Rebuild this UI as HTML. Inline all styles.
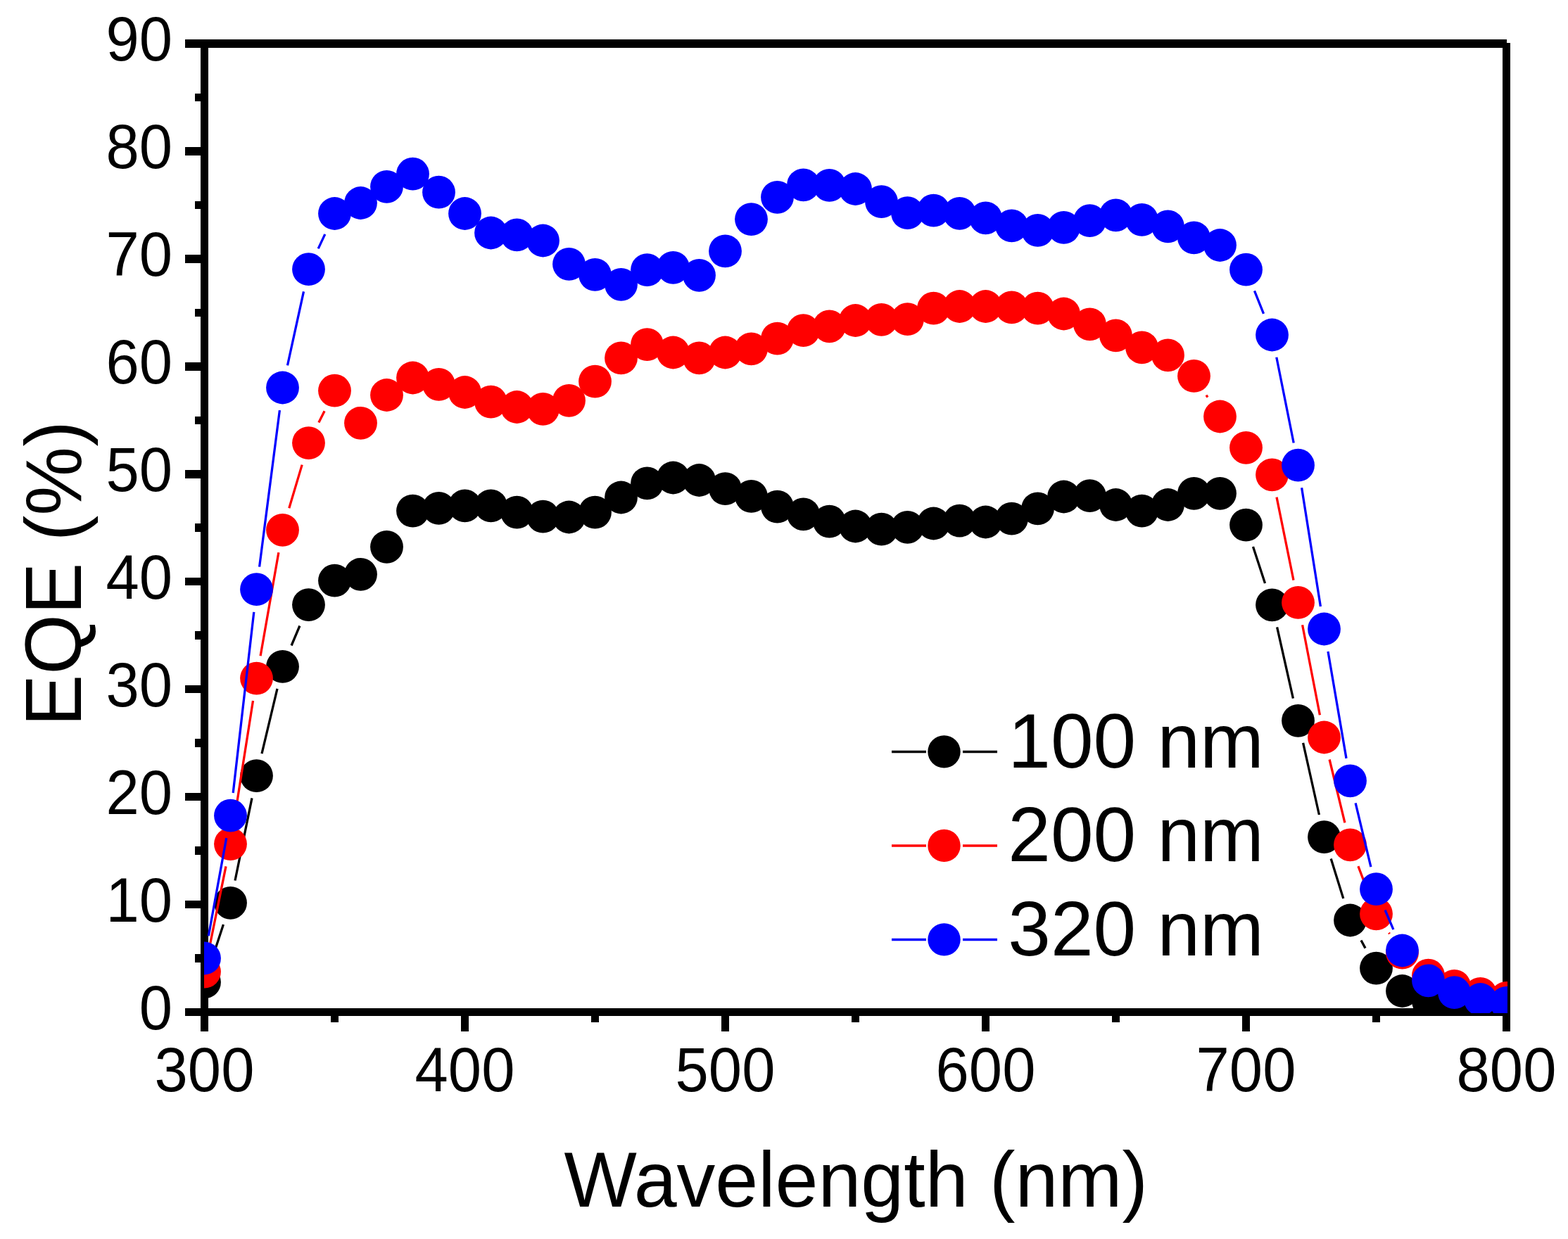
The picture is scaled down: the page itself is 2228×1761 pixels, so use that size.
<!DOCTYPE html>
<html><head><meta charset="utf-8"><title>EQE vs Wavelength</title>
<style>html,body{margin:0;padding:0;background:#fff;}svg{display:block;}</style>
</head><body>
<svg width="2228" height="1761" viewBox="0 0 2228 1761">
<rect width="2228" height="1761" fill="#fff"/>
<g shape-rendering="crispEdges"><path d="M263 62H2141.2" stroke="#000" stroke-width="11.5"/>
<path d="M263 1438.5H2146.2" stroke="#000" stroke-width="11.5"/>
<path d="M290.5 62V1466" stroke="#000" stroke-width="11.5"/>
<path d="M2140.5 61V1466" stroke="#000" stroke-width="11.5"/>
<path d="M277 1362H290.5" stroke="#000" stroke-width="11.5"/>
<path d="M263 1285.6H290.5" stroke="#000" stroke-width="11.5"/>
<path d="M277 1209.1H290.5" stroke="#000" stroke-width="11.5"/>
<path d="M263 1132.6H290.5" stroke="#000" stroke-width="11.5"/>
<path d="M277 1056.1H290.5" stroke="#000" stroke-width="11.5"/>
<path d="M263 979.7H290.5" stroke="#000" stroke-width="11.5"/>
<path d="M277 903.2H290.5" stroke="#000" stroke-width="11.5"/>
<path d="M263 826.7H290.5" stroke="#000" stroke-width="11.5"/>
<path d="M277 750.2H290.5" stroke="#000" stroke-width="11.5"/>
<path d="M263 673.8H290.5" stroke="#000" stroke-width="11.5"/>
<path d="M277 597.3H290.5" stroke="#000" stroke-width="11.5"/>
<path d="M263 520.8H290.5" stroke="#000" stroke-width="11.5"/>
<path d="M277 444.4H290.5" stroke="#000" stroke-width="11.5"/>
<path d="M263 367.9H290.5" stroke="#000" stroke-width="11.5"/>
<path d="M277 291.4H290.5" stroke="#000" stroke-width="11.5"/>
<path d="M263 214.9H290.5" stroke="#000" stroke-width="11.5"/>
<path d="M277 138.5H290.5" stroke="#000" stroke-width="11.5"/>
<path d="M475.5 1438.5V1453" stroke="#000" stroke-width="11.5"/>
<path d="M660.5 1438.5V1466" stroke="#000" stroke-width="11.5"/>
<path d="M845.5 1438.5V1453" stroke="#000" stroke-width="11.5"/>
<path d="M1030.5 1438.5V1466" stroke="#000" stroke-width="11.5"/>
<path d="M1215.5 1438.5V1453" stroke="#000" stroke-width="11.5"/>
<path d="M1400.5 1438.5V1466" stroke="#000" stroke-width="11.5"/>
<path d="M1585.5 1438.5V1453" stroke="#000" stroke-width="11.5"/>
<path d="M1770.5 1438.5V1466" stroke="#000" stroke-width="11.5"/>
<path d="M1955.5 1438.5V1453" stroke="#000" stroke-width="11.5"/></g>
<g font-family="'Liberation Sans', Arial, Helvetica, sans-serif" font-size="85" fill="#000"><text transform="translate(245 1462.9) scale(1 1.055)" text-anchor="end">0</text>
<text transform="translate(245 1310) scale(1 1.055)" text-anchor="end">10</text>
<text transform="translate(245 1157) scale(1 1.055)" text-anchor="end">20</text>
<text transform="translate(245 1004.1) scale(1 1.055)" text-anchor="end">30</text>
<text transform="translate(245 851.1) scale(1 1.055)" text-anchor="end">40</text>
<text transform="translate(245 698.2) scale(1 1.055)" text-anchor="end">50</text>
<text transform="translate(245 545.2) scale(1 1.055)" text-anchor="end">60</text>
<text transform="translate(245 392.3) scale(1 1.055)" text-anchor="end">70</text>
<text transform="translate(245 239.3) scale(1 1.055)" text-anchor="end">80</text>
<text transform="translate(245 86.4) scale(1 1.055)" text-anchor="end">90</text>
<text transform="translate(290.5 1551) scale(1 1.055)" text-anchor="middle">300</text>
<text transform="translate(660.5 1551) scale(1 1.055)" text-anchor="middle">400</text>
<text transform="translate(1030.5 1551) scale(1 1.055)" text-anchor="middle">500</text>
<text transform="translate(1400.5 1551) scale(1 1.055)" text-anchor="middle">600</text>
<text transform="translate(1770.5 1551) scale(1 1.055)" text-anchor="middle">700</text>
<text transform="translate(2140.5 1551) scale(1 1.055)" text-anchor="middle">800</text></g>
<defs><clipPath id="c"><rect x="290" y="61" width="1852" height="1379"/></clipPath></defs>
<g clip-path="url(#c)">
<path d="M300.6 1365.2L317.4 1314M334 1251.5L358 1134.4M372 1071.1L394 978.9M414.1 917.5L425.9 889.5M1780.5 776.9L1797.5 829M1814.6 891.4L1837.4 992.7M1851.6 1055.9L1874.4 1158M1891.2 1220.6L1908.8 1277.1M1934 1336.5L1940 1347.6" stroke="#000" stroke-width="3.3" fill="none"/>
<g fill="#000">
<circle cx="290.5" cy="1396" r="23.4"/>
<circle cx="327.5" cy="1283.3" r="23.4"/>
<circle cx="364.5" cy="1102.6" r="23.4"/>
<circle cx="401.5" cy="947.4" r="23.4"/>
<circle cx="438.5" cy="859.6" r="23.4"/>
<circle cx="475.5" cy="825.2" r="23.4"/>
<circle cx="512.5" cy="816.3" r="23.4"/>
<circle cx="549.5" cy="777.3" r="23.4"/>
<circle cx="586.5" cy="726.1" r="23.4"/>
<circle cx="623.5" cy="722.4" r="23.4"/>
<circle cx="660.5" cy="718.9" r="23.4"/>
<circle cx="697.5" cy="718.9" r="23.4"/>
<circle cx="734.5" cy="728.1" r="23.4"/>
<circle cx="771.5" cy="734.2" r="23.4"/>
<circle cx="808.5" cy="735" r="23.4"/>
<circle cx="845.5" cy="728.1" r="23.4"/>
<circle cx="882.5" cy="707" r="23.4"/>
<circle cx="919.5" cy="686.9" r="23.4"/>
<circle cx="956.5" cy="679" r="23.4"/>
<circle cx="993.5" cy="682.5" r="23.4"/>
<circle cx="1030.5" cy="694.6" r="23.4"/>
<circle cx="1067.5" cy="705.4" r="23.4"/>
<circle cx="1104.5" cy="720.1" r="23.4"/>
<circle cx="1141.5" cy="730.8" r="23.4"/>
<circle cx="1178.5" cy="741.2" r="23.4"/>
<circle cx="1215.5" cy="748" r="23.4"/>
<circle cx="1252.5" cy="752.2" r="23.4"/>
<circle cx="1289.5" cy="749.3" r="23.4"/>
<circle cx="1326.5" cy="744" r="23.4"/>
<circle cx="1363.5" cy="740.2" r="23.4"/>
<circle cx="1400.5" cy="742" r="23.4"/>
<circle cx="1437.5" cy="737.2" r="23.4"/>
<circle cx="1474.5" cy="722.9" r="23.4"/>
<circle cx="1511.5" cy="706" r="23.4"/>
<circle cx="1548.5" cy="704.7" r="23.4"/>
<circle cx="1585.5" cy="717.5" r="23.4"/>
<circle cx="1622.5" cy="726.2" r="23.4"/>
<circle cx="1659.5" cy="717.5" r="23.4"/>
<circle cx="1696.5" cy="701.3" r="23.4"/>
<circle cx="1733.5" cy="701.3" r="23.4"/>
<circle cx="1770.5" cy="746.1" r="23.4"/>
<circle cx="1807.5" cy="859.8" r="23.4"/>
<circle cx="1844.5" cy="1024.3" r="23.4"/>
<circle cx="1881.5" cy="1189.7" r="23.4"/>
<circle cx="1918.5" cy="1308" r="23.4"/>
<circle cx="1955.5" cy="1376.1" r="23.4"/>
<circle cx="1992.5" cy="1408.5" r="23.4"/>
<circle cx="2029.5" cy="1423.2" r="23.4"/>
<circle cx="2066.5" cy="1429.3" r="23.4"/>
<circle cx="2103.5" cy="1432.4" r="23.4"/>
<circle cx="2140.5" cy="1433.9" r="23.4"/>
</g>
<path d="M297 1349.4L321 1231.3M332.5 1167.6L359.5 996.1M370.1 932.2L395.9 785.2M410.8 722.3L429.2 660.6M452.9 600.6L461.1 584.3M1714 561.7L1716 564.7M1814 706.6L1838 824.6M1850.6 888.2L1875.4 1016.2M1889.1 1079.5L1910.9 1169.3M1929.9 1231.1L1944.1 1268.5M1973.5 1325.8L1974.5 1327.2" stroke="#f00" stroke-width="3.3" fill="none"/>
<g fill="#f00">
<circle cx="290.5" cy="1381.1" r="23.4"/>
<circle cx="327.5" cy="1199.6" r="23.4"/>
<circle cx="364.5" cy="964.1" r="23.4"/>
<circle cx="401.5" cy="753.3" r="23.4"/>
<circle cx="438.5" cy="629.6" r="23.4"/>
<circle cx="475.5" cy="555.2" r="23.4"/>
<circle cx="512.5" cy="601.3" r="23.4"/>
<circle cx="549.5" cy="561.5" r="23.4"/>
<circle cx="586.5" cy="537" r="23.4"/>
<circle cx="623.5" cy="546.4" r="23.4"/>
<circle cx="660.5" cy="557.5" r="23.4"/>
<circle cx="697.5" cy="571.2" r="23.4"/>
<circle cx="734.5" cy="578.5" r="23.4"/>
<circle cx="771.5" cy="581.4" r="23.4"/>
<circle cx="808.5" cy="569.3" r="23.4"/>
<circle cx="845.5" cy="542.1" r="23.4"/>
<circle cx="882.5" cy="508.9" r="23.4"/>
<circle cx="919.5" cy="489.6" r="23.4"/>
<circle cx="956.5" cy="501" r="23.4"/>
<circle cx="993.5" cy="508.9" r="23.4"/>
<circle cx="1030.5" cy="501" r="23.4"/>
<circle cx="1067.5" cy="495.9" r="23.4"/>
<circle cx="1104.5" cy="481.1" r="23.4"/>
<circle cx="1141.5" cy="469.7" r="23.4"/>
<circle cx="1178.5" cy="463.8" r="23.4"/>
<circle cx="1215.5" cy="455.5" r="23.4"/>
<circle cx="1252.5" cy="454.3" r="23.4"/>
<circle cx="1289.5" cy="453.7" r="23.4"/>
<circle cx="1326.5" cy="438.2" r="23.4"/>
<circle cx="1363.5" cy="435.5" r="23.4"/>
<circle cx="1400.5" cy="435.5" r="23.4"/>
<circle cx="1437.5" cy="436.9" r="23.4"/>
<circle cx="1474.5" cy="438.2" r="23.4"/>
<circle cx="1511.5" cy="446" r="23.4"/>
<circle cx="1548.5" cy="460.9" r="23.4"/>
<circle cx="1585.5" cy="476.9" r="23.4"/>
<circle cx="1622.5" cy="493.8" r="23.4"/>
<circle cx="1659.5" cy="504.8" r="23.4"/>
<circle cx="1696.5" cy="534.4" r="23.4"/>
<circle cx="1733.5" cy="592" r="23.4"/>
<circle cx="1770.5" cy="636.3" r="23.4"/>
<circle cx="1807.5" cy="674.8" r="23.4"/>
<circle cx="1844.5" cy="856.4" r="23.4"/>
<circle cx="1881.5" cy="1048" r="23.4"/>
<circle cx="1918.5" cy="1200.8" r="23.4"/>
<circle cx="1955.5" cy="1298.9" r="23.4"/>
<circle cx="1992.5" cy="1354.1" r="23.4"/>
<circle cx="2029.5" cy="1386.2" r="23.4"/>
<circle cx="2066.5" cy="1401.3" r="23.4"/>
<circle cx="2103.5" cy="1412.3" r="23.4"/>
<circle cx="2140.5" cy="1418.3" r="23.4"/>
</g>
<path d="M296.3 1330.2L321.7 1191.1M331.2 1127L360.8 869.9M368.6 805.6L397.4 583.1M408.5 519.3L431.5 414.4M452.2 353.4L461.8 332.9M1782.5 413.3L1795.5 445.9M1813.8 507.8L1838.2 629.5M1849.6 693.2L1876.4 862M1887 926L1913 1077.9M1926.1 1141.3L1947.9 1232.2M1968.1 1293.5L1979.9 1321.2" stroke="#00f" stroke-width="3.3" fill="none"/>
<g fill="#00f">
<circle cx="290.5" cy="1362" r="23.4"/>
<circle cx="327.5" cy="1159.2" r="23.4"/>
<circle cx="364.5" cy="837.7" r="23.4"/>
<circle cx="401.5" cy="551" r="23.4"/>
<circle cx="438.5" cy="382.7" r="23.4"/>
<circle cx="475.5" cy="303.5" r="23.4"/>
<circle cx="512.5" cy="288.5" r="23.4"/>
<circle cx="549.5" cy="265.3" r="23.4"/>
<circle cx="586.5" cy="247.2" r="23.4"/>
<circle cx="623.5" cy="273.2" r="23.4"/>
<circle cx="660.5" cy="303.5" r="23.4"/>
<circle cx="697.5" cy="331" r="23.4"/>
<circle cx="734.5" cy="333.9" r="23.4"/>
<circle cx="771.5" cy="342" r="23.4"/>
<circle cx="808.5" cy="375.4" r="23.4"/>
<circle cx="845.5" cy="390.4" r="23.4"/>
<circle cx="882.5" cy="404.3" r="23.4"/>
<circle cx="919.5" cy="383.6" r="23.4"/>
<circle cx="956.5" cy="380.3" r="23.4"/>
<circle cx="993.5" cy="391.3" r="23.4"/>
<circle cx="1030.5" cy="356.9" r="23.4"/>
<circle cx="1067.5" cy="311.6" r="23.4"/>
<circle cx="1104.5" cy="280.3" r="23.4"/>
<circle cx="1141.5" cy="262.8" r="23.4"/>
<circle cx="1178.5" cy="263.4" r="23.4"/>
<circle cx="1215.5" cy="268.5" r="23.4"/>
<circle cx="1252.5" cy="286.7" r="23.4"/>
<circle cx="1289.5" cy="302.7" r="23.4"/>
<circle cx="1326.5" cy="299.2" r="23.4"/>
<circle cx="1363.5" cy="303.3" r="23.4"/>
<circle cx="1400.5" cy="309.8" r="23.4"/>
<circle cx="1437.5" cy="320.9" r="23.4"/>
<circle cx="1474.5" cy="327.4" r="23.4"/>
<circle cx="1511.5" cy="323.4" r="23.4"/>
<circle cx="1548.5" cy="313.7" r="23.4"/>
<circle cx="1585.5" cy="305.8" r="23.4"/>
<circle cx="1622.5" cy="312.4" r="23.4"/>
<circle cx="1659.5" cy="321.9" r="23.4"/>
<circle cx="1696.5" cy="337.9" r="23.4"/>
<circle cx="1733.5" cy="348.5" r="23.4"/>
<circle cx="1770.5" cy="383.2" r="23.4"/>
<circle cx="1807.5" cy="476" r="23.4"/>
<circle cx="1844.5" cy="661.2" r="23.4"/>
<circle cx="1881.5" cy="894" r="23.4"/>
<circle cx="1918.5" cy="1109.8" r="23.4"/>
<circle cx="1955.5" cy="1263.7" r="23.4"/>
<circle cx="1992.5" cy="1351" r="23.4"/>
<circle cx="2029.5" cy="1393.8" r="23.4"/>
<circle cx="2066.5" cy="1410.7" r="23.4"/>
<circle cx="2103.5" cy="1420.5" r="23.4"/>
<circle cx="2140.5" cy="1425.3" r="23.4"/>
</g>
</g>
<path d="M1267 1068.4H1316M1368 1068.4H1417" stroke="#000" stroke-width="3.5"/>
<circle cx="1341.5" cy="1068.4" r="23.2" fill="#000"/>
<text transform="translate(1432.3 1090.9) scale(1 1.01)" font-family="'Liberation Sans', Arial, Helvetica, sans-serif" font-size="109">100 nm</text>
<path d="M1267 1201.9H1316M1368 1201.9H1417" stroke="#f00" stroke-width="3.5"/>
<circle cx="1341.5" cy="1201.9" r="23.2" fill="#f00"/>
<text transform="translate(1432.3 1224.4) scale(1 1.01)" font-family="'Liberation Sans', Arial, Helvetica, sans-serif" font-size="109">200 nm</text>
<path d="M1267 1335.4H1316M1368 1335.4H1417" stroke="#00f" stroke-width="3.5"/>
<circle cx="1341.5" cy="1335.4" r="23.2" fill="#00f"/>
<text transform="translate(1432.3 1357.9) scale(1 1.01)" font-family="'Liberation Sans', Arial, Helvetica, sans-serif" font-size="109">320 nm</text>
<text transform="translate(1216.2 1714.8) scale(1 1.02)" text-anchor="middle" font-family="'Liberation Sans', Arial, Helvetica, sans-serif" font-size="109.5">Wavelength (nm)</text>
<text transform="translate(114.7 815.2) rotate(-90) scale(1 1.035)" text-anchor="middle" font-family="'Liberation Sans', Arial, Helvetica, sans-serif" font-size="110">EQE (%)</text>
</svg>
</body></html>
